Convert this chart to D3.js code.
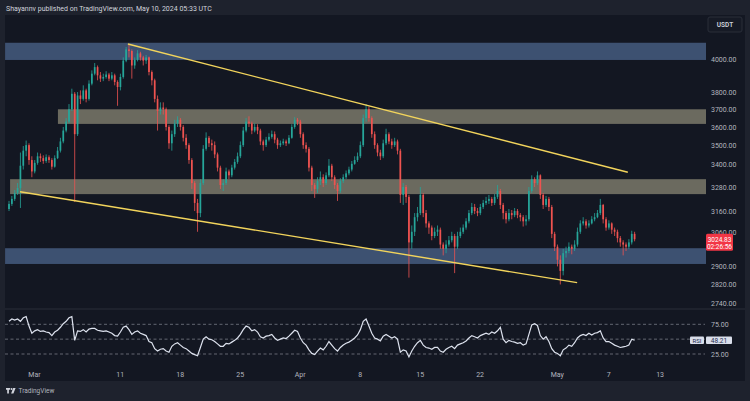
<!DOCTYPE html>
<html>
<head>
<meta charset="utf-8">
<script src="https://cdn.jsdelivr.net/npm/d3@7"></script>
<style>
  html, body { margin: 0; padding: 0; background: #1e222d; }
  svg { display: block; font-family: Roboto, "Noto Sans", sans-serif; }
</style>
</head>
<body>
<svg id="chart"></svg>
<script>
// ETH/USDT, 8h candles (first candle opens Feb 27 00:00 UTC)
const firstCandle = Date.UTC(2024, 1, 27, 0);
const firstOpen = 3170;

const closes = [
  3195, 3220, 3250, 3275, 3390, 3470, 3500, 3420, 3360,
  3405, 3440, 3430, 3415, 3435, 3420, 3385, 3430, 3470,
  3520, 3580, 3630, 3700, 3790, 3560, 3780, 3760, 3810,
  3760, 3850, 3910, 3950, 3900, 3880, 3890, 3905, 3880,
  3900, 3860, 3830, 3890, 3990, 4060, 4050, 3960, 3995,
  4035, 4010, 3990, 4010, 3920, 3870, 3760, 3690, 3710,
  3700, 3600, 3510, 3560, 3620, 3640, 3600, 3540, 3500,
  3420, 3300, 3200, 3150, 3300, 3480, 3540, 3510, 3500,
  3450, 3380, 3290, 3300, 3360, 3340, 3380, 3410, 3440,
  3500, 3580, 3630, 3620, 3580, 3600, 3580, 3520, 3500,
  3530, 3545, 3560, 3530, 3500, 3510, 3520, 3510, 3540,
  3600, 3640, 3630, 3560, 3500, 3480, 3380, 3290, 3270,
  3310, 3330, 3300, 3340, 3390, 3330, 3290, 3260, 3310,
  3330, 3350, 3370, 3400, 3420, 3440, 3500, 3650, 3700,
  3650, 3560, 3500, 3460, 3440, 3510, 3560, 3520, 3500,
  3520, 3470, 3240, 3280, 3230, 3010, 3060, 3130, 3150,
  3240, 3150, 3100, 3080, 3040, 3060, 3070, 3000, 2980,
  3000, 3020, 3040, 2990, 3040, 3060, 3080, 3110, 3150,
  3180, 3160, 3150, 3180, 3200, 3210, 3220, 3200, 3230,
  3260, 3190, 3150, 3120, 3150, 3140, 3160, 3140, 3130,
  3110, 3120, 3260, 3320, 3300, 3340, 3240, 3190, 3220,
  3180, 3050, 2990, 2930, 2880, 2960, 2970, 2990, 2980,
  3000, 3060, 3100, 3110, 3090, 3100, 3120, 3130, 3150,
  3190, 3120, 3080, 3100, 3070, 3060, 3030, 3010, 3000,
  2990, 3010, 3050, 3024.83
];

const highs = [
  3210, 3235, 3265, 3300, 3460, 3495, 3525, 3510, 3440,
  3420, 3460, 3455, 3445, 3450, 3445, 3430, 3445, 3490,
  3540, 3600, 3650, 3730, 3820, 3800, 3800, 3810, 3840,
  3820, 3870, 3930, 3975, 3960, 3920, 3910, 3925, 3915,
  3920, 3910, 3870, 3910, 4010, 4075, 4090, 4060, 4010,
  4055, 4045, 4020, 4025, 4015, 3930, 3880, 3780, 3740,
  3740, 3710, 3610, 3580, 3640, 3660, 3650, 3610, 3560,
  3510, 3430, 3310, 3220, 3320, 3500, 3570, 3550, 3530,
  3520, 3460, 3390, 3320, 3380, 3370, 3395, 3425, 3460,
  3520, 3600, 3650, 3660, 3630, 3620, 3615, 3590, 3530,
  3545, 3565, 3580, 3575, 3540, 3525, 3535, 3530, 3555,
  3615, 3655, 3650, 3640, 3570, 3515, 3490, 3390, 3300,
  3330, 3360, 3345, 3355, 3425, 3400, 3340, 3300, 3325,
  3345, 3365, 3385, 3415, 3440, 3460, 3520, 3670, 3730,
  3715, 3660, 3575, 3510, 3475, 3530, 3590, 3570, 3535,
  3540, 3530, 3480, 3300, 3290, 3240, 3090, 3150, 3180,
  3280, 3250, 3165, 3110, 3090, 3080, 3090, 3080, 3010,
  3020, 3040, 3060, 3050, 3060, 3080, 3095, 3125, 3165,
  3200, 3195, 3175, 3195, 3215, 3230, 3240, 3230, 3245,
  3290, 3270, 3200, 3160, 3170, 3165, 3175, 3170, 3150,
  3140, 3140, 3280, 3340, 3330, 3360, 3345, 3250, 3235,
  3230, 3190, 3060, 3000, 2950, 2980, 2990, 3010, 3000,
  3020, 3080, 3115, 3130, 3120, 3115, 3135, 3150, 3165,
  3220, 3195, 3130, 3115, 3105, 3080, 3070, 3040, 3020,
  3010, 3025, 3065, 3060
];

const lows = [
  3160, 3185, 3210, 3240, 3175, 3370, 3440, 3395, 3330,
  3350, 3395, 3410, 3400, 3405, 3405, 3370, 3380, 3425,
  3460, 3510, 3570, 3620, 3690, 3205, 3550, 3730, 3750,
  3740, 3750, 3840, 3900, 3870, 3860, 3865, 3880, 3865,
  3870, 3840, 3720, 3810, 3880, 3980, 4010, 3880, 3940,
  3985, 3990, 3960, 3970, 3900, 3840, 3740, 3580, 3670,
  3670, 3580, 3480, 3470, 3545, 3600, 3580, 3520, 3480,
  3400, 3270, 3160, 3060, 3130, 3290, 3470, 3490, 3470,
  3430, 3360, 3270, 3260, 3290, 3320, 3330, 3370, 3400,
  3430, 3490, 3570, 3600, 3560, 3570, 3560, 3500, 3470,
  3490, 3520, 3535, 3510, 3480, 3490, 3500, 3495, 3505,
  3535, 3590, 3610, 3540, 3480, 3460, 3360, 3260, 3225,
  3250, 3290, 3280, 3290, 3330, 3310, 3270, 3210, 3250,
  3300, 3320, 3340, 3360, 3395, 3410, 3430, 3490, 3630,
  3630, 3540, 3480, 3440, 3420, 3430, 3500, 3505, 3480,
  3490, 3450, 3200, 3190, 3200, 2850, 2980, 3040, 3110,
  3140, 3130, 3080, 3050, 3020, 3030, 3040, 2980, 2950,
  2960, 2990, 3010, 2870, 2980, 3030, 3050, 3070, 3100,
  3140, 3145, 3135, 3140, 3170, 3190, 3195, 3185, 3190,
  3220, 3170, 3120, 3100, 3110, 3120, 3130, 3125, 3110,
  3085, 3090, 3110, 3250, 3280, 3290, 3220, 3170, 3180,
  3160, 3030, 2970, 2900, 2820, 2860, 2940, 2960, 2955,
  2970, 2990, 3050, 3090, 3075, 3080, 3095, 3110, 3125,
  3140, 3100, 3065, 3070, 3050, 3040, 3010, 2990, 2950,
  2970, 2980, 3000, 3015
];

const rsiValues = [
  80, 84, 82, 84, 80, 86, 88, 72, 60,
  64, 66, 63, 64, 62, 61, 56, 62, 65,
  70, 76, 80, 86, 88, 48, 64, 63, 66,
  62, 67, 68, 68, 65, 64, 63, 64, 62,
  60, 56, 55, 62, 70, 72, 66, 58, 62,
  64, 60, 58, 56, 46, 44, 34, 30, 33,
  34, 30, 28, 38, 42, 44, 40, 36, 34,
  30, 26, 24, 22, 36, 50, 54, 50, 49,
  46, 42, 38, 38, 43, 42, 45, 48, 52,
  58, 66, 72, 70, 64, 66, 62, 54, 52,
  55, 56, 58, 52, 48, 50, 52, 51, 55,
  60, 65, 63, 52, 44, 40, 32, 26, 24,
  30, 35, 32, 38, 46, 40, 34, 30, 36,
  40, 43, 45, 48, 52, 57, 66, 80, 84,
  72, 60, 52, 50, 47, 55, 58, 55, 52,
  54, 50, 28, 32, 30, 20, 30, 38, 44,
  48, 40, 36, 35, 33, 36, 36, 30, 28,
  33, 36, 38, 34, 40, 42, 44, 47, 52,
  56, 54, 52, 56, 58, 60, 58, 62, 60,
  64, 70, 50, 44, 48, 46, 45, 43, 44,
  40, 42, 58, 74, 76, 73, 56, 50, 54,
  46, 34, 28, 26, 22, 32, 35, 40, 38,
  44, 52, 56, 58, 56, 60, 57, 60, 61,
  64, 52, 46, 46, 43, 40, 38, 36, 37,
  38, 40, 50, 48.21
];

// horizontal zones drawn on the chart (price ranges, start time)
const zoneKinds = ["blue", "gray", "gray", "blue"];
const zoneStarts = [Date.UTC(2024, 1, 26, 15), Date.UTC(2024, 2, 3, 19), Date.UTC(2024, 1, 27, 5), Date.UTC(2024, 1, 26, 15)];
const zoneLows = [3994, 3617, 3244, 2911];
const zoneHighs = [4102, 3700, 3320, 2983];

// descending channel
const trendStarts = [[Date.UTC(2024, 2, 11, 23), 4094], [Date.UTC(2024, 1, 28, 9), 3256]];
const trendEnds = [[Date.UTC(2024, 4, 9, 7), 3356], [Date.UTC(2024, 4, 3, 9), 2828]];

const priceTicks = [4000, 3800, 3700, 3600, 3500, 3400, 3280, 3160, 3060, 2900, 2820, 2740];
const rsiLevels = [75, 50, 25];
const rsiTickLabels = [75, 25];
const timeTicks = [
  Date.UTC(2024, 2, 1), Date.UTC(2024, 2, 11), Date.UTC(2024, 2, 18), Date.UTC(2024, 2, 25),
  Date.UTC(2024, 3, 1), Date.UTC(2024, 3, 8), Date.UTC(2024, 3, 15), Date.UTC(2024, 3, 22),
  Date.UTC(2024, 4, 1), Date.UTC(2024, 4, 7), Date.UTC(2024, 4, 13)
];
const timeLabels = ["Mar", "11", "18", "25", "Apr", "8", "15", "22", "May", "7", "13"];
const countdown = "02:26:56";
const headerText = "Shayannv published on TradingView.com, May 10, 2024 05:33 UTC";

const width = 750;
const height = 401;
const plotLeft = 5;
const plotRight = 706;
const priceTop = 15;
const priceBottom = 309;

const svg = d3.select("#chart").attr("width", width).attr("height", height);

svg.append("rect").attr("width", width).attr("height", height).attr("fill", "#1e222d");
svg.append("rect")
  .attr("x", 5).attr("y", 15)
  .attr("width", 740).attr("height", 366)
  .attr("fill", "#131722");

const x = d3.scaleUtc()
  .domain([new Date(Date.UTC(2024, 1, 26, 14, 47)), new Date(Date.UTC(2024, 4, 18, 7, 10))])
  .range([plotLeft, 705]);

const y = d3.scaleLog()
  .domain([2714.7, 4282.4])
  .range([priceBottom, priceTop]);

const r = d3.scaleLinear()
  .domain([25, 75])
  .range([354, 324.3]);

const candleMs = 8 * 3600 * 1000;
const candles = closes.map((c, i) => {
  const open = i === 0 ? firstOpen : closes[i - 1];
  return {
    t: new Date(firstCandle + i * candleMs + candleMs / 4),
    open: open,
    close: c,
    high: Math.max(highs[i], open, c),
    low: Math.min(lows[i], open, c),
    rsi: rsiValues[i],
  };
});

svg.append("clipPath").attr("id", "priceClip")
  .append("rect")
  .attr("x", plotLeft).attr("y", priceTop)
  .attr("width", plotRight - plotLeft).attr("height", priceBottom - priceTop);

const pricePane = svg.append("g").attr("clip-path", "url(#priceClip)");

// zones
const zoneColor = { blue: "#3d5171", gray: "#6b6a5f" };
pricePane.selectAll(".zone")
  .data(zoneKinds)
  .enter()
  .append("rect")
  .attr("class", "zone")
  .attr("x", (d, i) => x(new Date(zoneStarts[i])))
  .attr("y", (d, i) => y(zoneHighs[i]))
  .attr("width", (d, i) => plotRight - x(new Date(zoneStarts[i])))
  .attr("height", (d, i) => y(zoneLows[i]) - y(zoneHighs[i]))
  .attr("fill", (d) => zoneColor[d]);

// candles
const up = "#26a69a";
const down = "#ef5350";
const bodyW = 1.7;

pricePane.selectAll(".wick")
  .data(candles)
  .enter()
  .append("line")
  .attr("class", "wick")
  .attr("x1", (d) => x(d.t))
  .attr("x2", (d) => x(d.t))
  .attr("y1", (d) => y(d.high))
  .attr("y2", (d) => y(d.low))
  .attr("stroke", (d) => (d.close >= d.open ? up : down))
  .attr("stroke-width", 0.8);

pricePane.selectAll(".body")
  .data(candles)
  .enter()
  .append("rect")
  .attr("class", "body")
  .attr("x", (d) => x(d.t) - bodyW / 2)
  .attr("y", (d) => y(Math.max(d.open, d.close)))
  .attr("width", bodyW)
  .attr("height", (d) => Math.max(0.8, Math.abs(y(d.open) - y(d.close))))
  .attr("fill", (d) => (d.close >= d.open ? up : down));

// trend lines
pricePane.selectAll(".trend")
  .data(trendStarts)
  .enter()
  .append("line")
  .attr("class", "trend")
  .attr("x1", (d) => x(new Date(d[0])))
  .attr("y1", (d) => y(d[1]))
  .attr("x2", (d, i) => x(new Date(trendEnds[i][0])))
  .attr("y2", (d, i) => y(trendEnds[i][1]))
  .attr("stroke", "#f2d45c")
  .attr("stroke-width", 1.4);

// pane separator
svg.append("line")
  .attr("x1", 5).attr("x2", 745)
  .attr("y1", priceBottom).attr("y2", priceBottom)
  .attr("stroke", "#2a2e39");

// price axis
const priceAxis = svg.append("g")
  .attr("transform", `translate(709,0)`)
  .call(d3.axisRight(y).tickValues(priceTicks).tickFormat(d3.format(".2f")).tickSize(0).tickPadding(2));
priceAxis.select(".domain").remove();
priceAxis.selectAll("text").attr("fill", "#b2b5be").attr("font-size", 7).attr("font-family", "Roboto, sans-serif");

// USDT box
svg.append("rect")
  .attr("x", 708).attr("y", 17).attr("width", 34).attr("height", 15).attr("rx", 2)
  .attr("fill", "#161a25").attr("stroke", "#2a2e39");
svg.append("text")
  .attr("x", 725).attr("y", 27)
  .attr("text-anchor", "middle")
  .attr("font-size", 6.5).attr("font-weight", 600)
  .attr("fill", "#d1d4dc")
  .text("USDT");

// last price label
const last = candles[candles.length - 1];
const ly = y(last.close);
svg.append("rect")
  .attr("x", 706).attr("y", ly - 5.5).attr("width", 27).attr("height", 17).attr("rx", 1.5)
  .attr("fill", "#f23645");
svg.append("text")
  .attr("x", 719.5).attr("y", ly + 2.3)
  .attr("text-anchor", "middle").attr("font-size", 6.5).attr("fill", "#ffffff")
  .text(d3.format(".2f")(last.close));
svg.append("text")
  .attr("x", 719.5).attr("y", ly + 9.8)
  .attr("text-anchor", "middle").attr("font-size", 6.5).attr("fill", "#ffffff")
  .text(countdown);

// RSI pane
svg.selectAll(".rsiLevel")
  .data(rsiLevels)
  .enter()
  .append("line")
  .attr("class", "rsiLevel")
  .attr("x1", plotLeft).attr("x2", plotRight - 1)
  .attr("y1", (d) => r(d)).attr("y2", (d) => r(d))
  .attr("stroke", "#787b86")
  .attr("stroke-width", 0.8)
  .attr("stroke-dasharray", "3,2.5");

const rsiLine = d3.line()
  .x((d) => x(d.t))
  .y((d) => r(d.rsi));

svg.append("path")
  .datum(candles)
  .attr("d", rsiLine)
  .attr("fill", "none")
  .attr("stroke", "#dde2ee")
  .attr("stroke-width", 1.2);

const rsiAxis = svg.append("g")
  .attr("transform", `translate(709,0)`)
  .call(d3.axisRight(r).tickValues(rsiTickLabels).tickFormat(d3.format(".2f")).tickSize(0).tickPadding(2));
rsiAxis.select(".domain").remove();
rsiAxis.selectAll("text").attr("fill", "#b2b5be").attr("font-size", 7).attr("font-family", "Roboto, sans-serif");

const ry = r(last.rsi);
svg.append("rect")
  .attr("x", 690).attr("y", ry - 3.8).attr("width", 14).attr("height", 7.6).attr("rx", 1)
  .attr("fill", "#d9deea");
svg.append("text")
  .attr("x", 697).attr("y", ry + 2.3)
  .attr("text-anchor", "middle").attr("font-size", 6).attr("fill", "#1c2a4a")
  .text("RSI");
svg.append("rect")
  .attr("x", 706).attr("y", ry - 3.8).attr("width", 26).attr("height", 7.6).attr("rx", 1)
  .attr("fill", "#d9deea");
svg.append("text")
  .attr("x", 719).attr("y", ry + 2.3)
  .attr("text-anchor", "middle").attr("font-size", 6.5).attr("fill", "#1c2a4a")
  .text(d3.format(".2f")(last.rsi));

// time axis
const timeAxis = svg.append("g")
  .attr("transform", `translate(0,372.5)`)
  .call(d3.axisBottom(x)
    .tickValues(timeTicks.map((t) => new Date(t)))
    .tickFormat((d, i) => timeLabels[i])
    .tickSize(0).tickPadding(0));
timeAxis.select(".domain").remove();
timeAxis.selectAll("text").attr("fill", "#b2b5be").attr("font-size", 7).attr("font-family", "Roboto, sans-serif");

// header
svg.append("text")
  .attr("x", 6).attr("y", 10.5)
  .attr("font-size", 7).attr("fill", "#d1d4dc")
  .text(headerText);

// footer logo
const logo = svg.append("g").attr("fill", "#d1d4dc");
logo.append("path").attr("d", "M6 388h4.2v1.8h-1.3v3.8h-1.7v-3.8H6z");
logo.append("circle").attr("cx", 11.6).attr("cy", 389).attr("r", 0.9);
logo.append("path").attr("d", "M13.2 388h2.4l-2.2 5.6h-2.3z");
svg.append("text")
  .attr("x", 18.5).attr("y", 393.2)
  .attr("font-size", 6.5).attr("fill", "#b2b5be")
  .text("TradingView");
</script>
</body>
</html>
